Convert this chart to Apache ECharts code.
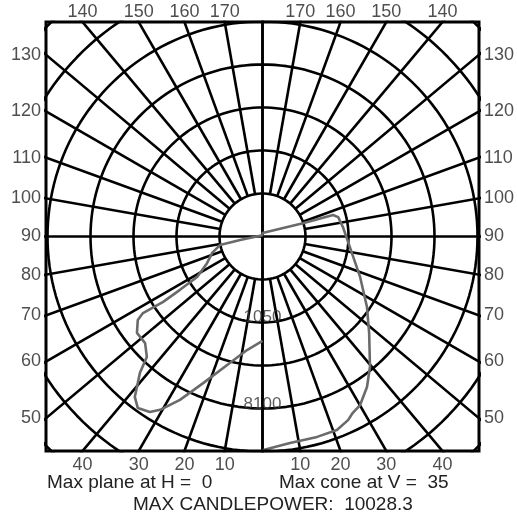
<!DOCTYPE html>
<html><head><meta charset="utf-8">
<script src="https://cdn.jsdelivr.net/npm/echarts@6/dist/echarts.min.js"></script>
<style>html,body{margin:0;padding:0;background:#fff}#c{width:517px;height:518px}</style>
</head><body><div id="c"></div>
<script>
// Grid geometry (in circle-step units)
const circleRadii = [1, 2, 3, 4, 5, 6, 7];
const spokeAngles = [0,10,20,30,40,50,60,70,80,90,100,110,120,130,140,150,160,170,180];
const leftLabels = [50, 60, 70, 80, 90, 100, 110, 120, 130];
const rightLabels = [50, 60, 70, 80, 90, 100, 110, 120, 130];
const topLabels = [140, 150, 160, 170];
const bottomLabels = [10, 20, 30, 40];
// Isocandela contour (x, y in circle-step units)
const contourLeft = [
  [0,0.03],[-0.52,-0.08],[-0.99,-0.20],[-1.17,-0.38],[-1.29,-0.62],[-1.52,-0.94],
  [-1.92,-1.24],[-2.31,-1.52],[-2.78,-1.78],[-2.90,-1.94],[-2.92,-2.24],[-2.73,-2.48],
  [-2.69,-2.80],[-2.85,-3.17],[-2.97,-3.73],[-2.90,-3.99],[-2.62,-4.08],[-2.38,-4.03],
  [-1.92,-3.80],[-1.38,-3.41],[-0.76,-2.94],[-0.36,-2.64],[0,-2.43]
];
const contourRight = [
  [0,0.08],[0.94,0.31],[1.64,0.50],[1.76,0.45],[1.87,0.22],[2.03,-0.24],[2.27,-0.94],
  [2.43,-1.64],[2.48,-2.24],[2.50,-3.03],[2.43,-3.50],[2.27,-3.92],[2.10,-4.10],
  [1.99,-4.27],[1.73,-4.50],[1.27,-4.66],[0.64,-4.80],[0,-4.97]
];
const contourLabels = [['1050', -1.87], ['8100', -3.90]];
const footLeft = 'Max plane at H =  0';
const footRight = 'Max cone at V =  35';
const footMain = 'MAX CANDLEPOWER:  10028.3';

const XMAX = 5.035, YMAX = 4.988;
const FONT = '"Liberation Sans", Arial, sans-serif';
const rad = d => d * Math.PI / 180;

const series = [];
// circles
circleRadii.forEach(r => {
  const pts = [];
  for (let a = 0; a <= 360; a += 2) pts.push([r * Math.cos(rad(a)), r * Math.sin(rad(a))]);
  series.push({type:'line', data: pts, symbol:'none', clip:true, silent:true,
    lineStyle:{color:'#000', width:2.6}, z:2});
});
// spokes on both sides
[-1, 1].forEach(side => {
  spokeAngles.forEach(v => {
    const inner = (v % 90 === 0) ? 0 : circleRadii[0];
    const dx = side * Math.sin(rad(v)), dy = -Math.cos(rad(v));
    series.push({type:'line', data:[[inner*dx, inner*dy],[9*dx, 9*dy]], symbol:'none',
      clip:true, silent:true, lineStyle:{color:'#000', width:2.6}, z:2});
  });
});
// contour
series.push({type:'line', data: contourLeft.slice().reverse().concat(contourRight),
  symbol:'none', clip:true, silent:true, lineStyle:{color:'#6a6a6a', width:2.6}, z:3});

// border labels
function labelSeries(points, pos, dist) {
  return {type:'scatter', symbolSize:0, clip:false, silent:true, z:5,
    data: points,
    label:{show:true, position:pos, distance:dist, formatter: p => String(p.data[2]),
      fontFamily: FONT, fontSize:18, color:'#222'}};
}
const leftPts = leftLabels.map(v => {
  const t = XMAX / Math.sin(rad(v));
  return [-XMAX, -Math.cos(rad(v)) * t, v];
});
const rightPts = rightLabels.map(v => {
  const t = XMAX / Math.sin(rad(v));
  return [XMAX, -Math.cos(rad(v)) * t, v];
});
const topPts = [];
topLabels.forEach(v => {
  const t = YMAX / (-Math.cos(rad(v)));
  topPts.push([-Math.sin(rad(v)) * t, YMAX, v]);
  topPts.push([Math.sin(rad(v)) * t, YMAX, v]);
});
const botPts = [];
bottomLabels.forEach(v => {
  const t = YMAX / Math.cos(rad(v));
  botPts.push([-Math.sin(rad(v)) * t, -YMAX, v]);
  botPts.push([Math.sin(rad(v)) * t, -YMAX, v]);
});
series.push(labelSeries(leftPts, 'left', 5));
series.push(labelSeries(rightPts, 'right', 5));
series.push(labelSeries(topPts, 'top', 1));
series.push(labelSeries(botPts, 'bottom', 5));
series.push({type:'scatter', symbolSize:0, clip:false, silent:true, z:6,
  data: contourLabels.map(c => [0, c[1], c[0]]),
  label:{show:true, position:'inside', formatter: p => p.data[2],
    fontFamily: FONT, fontSize:17, color:'#333'}});

const chart = echarts.init(document.getElementById('c'), null, {renderer:'canvas'});
chart.setOption({
  animation:false,
  backgroundColor:'#fff',
  grid:{left:46, top:22, width:433, height:429, show:true, borderColor:'#000', borderWidth:3, z:10},
  xAxis:{type:'value', min:-XMAX, max:XMAX, show:false},
  yAxis:{type:'value', min:-YMAX, max:YMAX, show:false},
  series: series,
  graphic:[
    {type:'text', left:47, top:473, style:{text: footLeft, font:'19px ' + FONT, fill:'#222'}},
    {type:'text', left:279, top:473, style:{text: footRight, font:'19px ' + FONT, fill:'#222'}},
    {type:'text', left:133, top:495, style:{text: footMain, font:'19px ' + FONT, fill:'#222'}}
  ]
});
</script></body></html>
